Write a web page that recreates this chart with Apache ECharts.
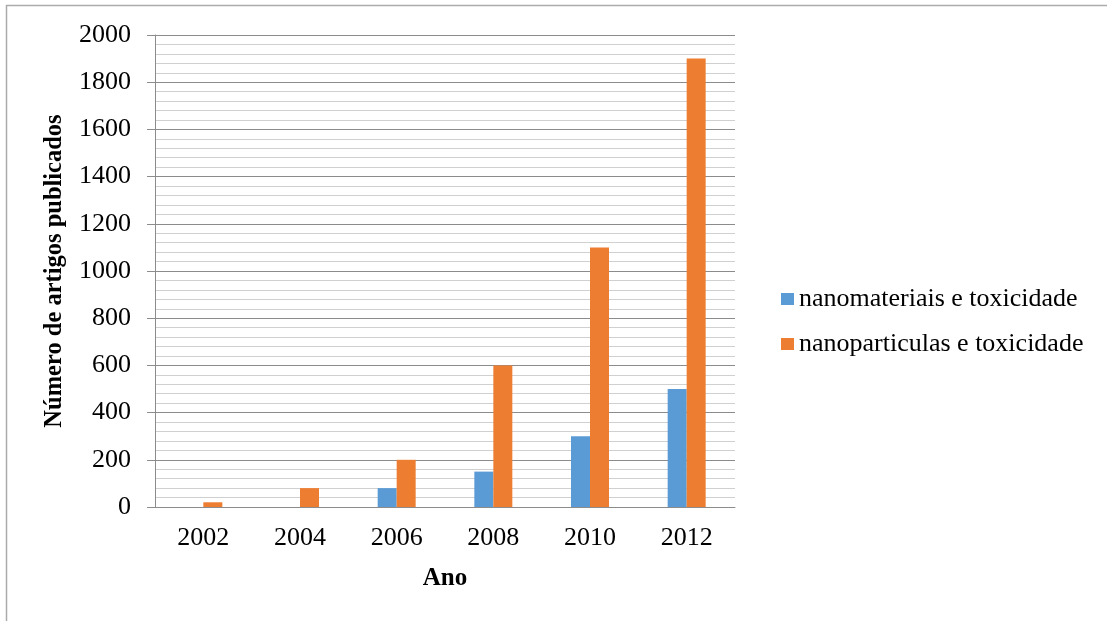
<!DOCTYPE html>
<html>
<head>
<meta charset="utf-8">
<script src="https://cdn.jsdelivr.net/npm/echarts@6/dist/echarts.min.js"></script>
<style>
  html, body { margin: 0; padding: 0; background: #fff; }
  #chart { width: 1107px; height: 621px; }
</style>
</head>
<body>
<div id="chart"></div>
<script>
const years = ['2002', '2004', '2006', '2008', '2010', '2012']
const nanomateriais = [0, 0, 80, 150, 300, 500]
const nanoparticulas = [20, 80, 200, 600, 1100, 1900]

const font = 'Liberation Serif, Times New Roman, serif'

const myChart = echarts.init(document.getElementById('chart'))

const option = {
  backgroundColor: '#fff',
  textStyle: { fontFamily: font },
  // only the top and left edges of the frame are visible
  graphic: [
    {
      type: 'polyline',
      shape: { points: [[6.5, 621], [6.5, 5.5], [1107, 5.5]] },
      style: { fill: 'none', stroke: '#ababab', lineWidth: 1.5 },
      silent: true,
    },
  ],
  grid: { left: 155, right: 372, top: 35, bottom: 114 },
  legend: {
    orient: 'vertical',
    left: 776,
    top: 281,
    itemWidth: 13,
    itemHeight: 12,
    itemGap: 19,
    icon: 'rect',
    textStyle: { fontFamily: font, fontSize: 26, color: '#000' },
    data: ['nanomateriais e toxicidade', 'nanoparticulas e toxicidade'],
  },
  xAxis: {
    type: 'category',
    data: years,
    name: 'Ano',
    nameLocation: 'middle',
    nameGap: 59,
    nameTextStyle: { fontFamily: font, fontSize: 25, fontWeight: 'bold', color: '#000' },
    axisLine: { lineStyle: { color: '#8c8c8c', width: 1 } },
    axisTick: { show: false },
    axisLabel: { fontFamily: font, fontSize: 26, color: '#000', margin: 18 },
  },
  yAxis: {
    type: 'value',
    min: 0,
    max: 2000,
    interval: 200,
    name: 'Número de artigos publicados',
    nameLocation: 'middle',
    nameGap: 88,
    nameTextStyle: { fontFamily: font, fontSize: 24.5, fontWeight: 'bold', color: '#000' },
    axisLine: { show: true, lineStyle: { color: '#8c8c8c', width: 1 } },
    axisTick: { show: true, length: 8, lineStyle: { color: '#8c8c8c' } },
    axisLabel: {
      fontFamily: font,
      fontSize: 26,
      color: '#000',
      margin: 24,
      formatter: (v) => String(v),
    },
    splitLine: { lineStyle: { color: '#8c8c8c', width: 1 } },
    minorTick: { show: false, splitNumber: 5 },
    minorSplitLine: { show: true, lineStyle: { color: '#d0d0d0', width: 1 } },
  },
  series: [
    {
      name: 'nanomateriais e toxicidade',
      type: 'bar',
      data: nanomateriais,
      barWidth: 19,
      barGap: '0%',
      itemStyle: { color: '#5B9BD5' },
    },
    {
      name: 'nanoparticulas e toxicidade',
      type: 'bar',
      data: nanoparticulas,
      barWidth: 19,
      itemStyle: { color: '#ED7D31' },
    },
  ],
}

myChart.setOption(option)
</script>
</body>
</html>
